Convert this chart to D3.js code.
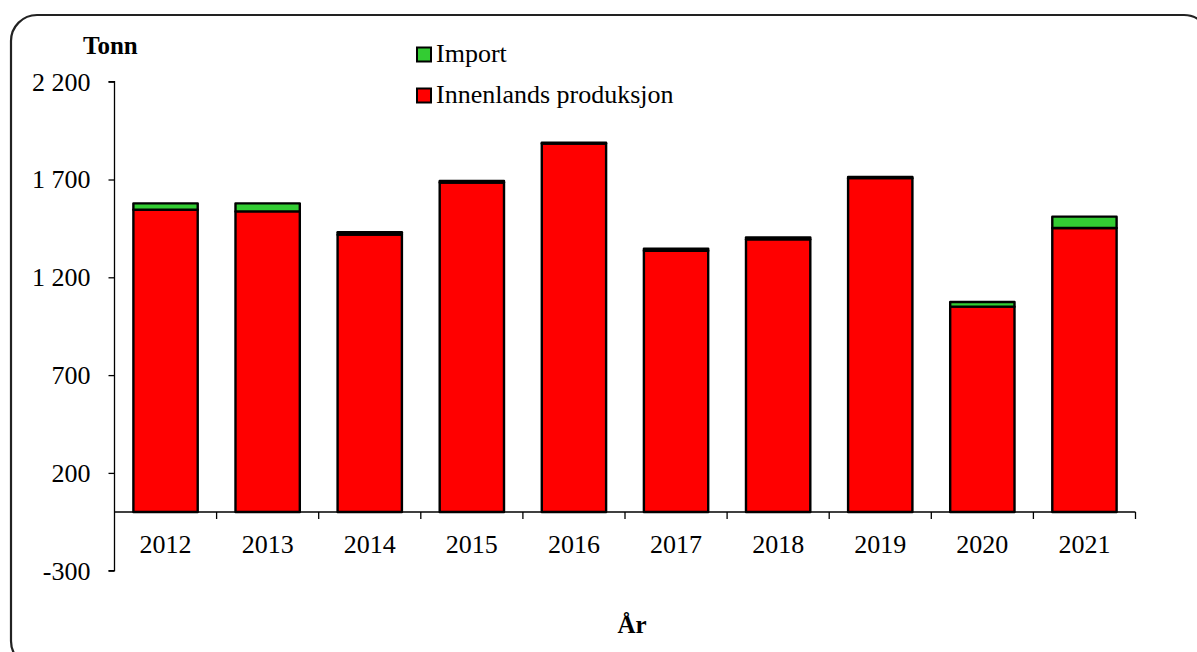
<!DOCTYPE html>
<html>
<head>
<meta charset="utf-8">
<script src="https://cdn.jsdelivr.net/npm/d3@7"></script>
<style>
  html, body { margin: 0; padding: 0; background: #fff; }
  svg { display: block; }
  text { font-family: "Liberation Serif", "Times New Roman", serif; fill: #000; }
</style>
</head>
<body>
<svg id="chart" width="1197" height="652"></svg>
<script>
const years = ["2012","2013","2014","2015","2016","2017","2018","2019","2020","2021"];
const production = [1545, 1537, 1418, 1685, 1884, 1336, 1394, 1707, 1050, 1452];
const importVals = [33, 41, 12, 7, 4, 10, 10, 6, 24, 58];
const yTicks = [-300, 200, 700, 1200, 1700, 2200];
const seriesNames = ["Innenlands produksjon", "Import"];
const seriesColors = ["#FF0000", "#33CC33"];

(function () {
const svg = d3.select("#chart");
const FS = "26px";

// Outer rounded frame
svg.append("rect")
  .attr("x", 11).attr("y", 15).attr("width", 1199).attr("height", 652)
  .attr("rx", 26).attr("ry", 26)
  .attr("fill", "none").attr("stroke", "#222").attr("stroke-width", 2.2);

const plotLeft = 114.5, plotRight = 1135.5, plotTop = 81.7, plotBottom = 570.7;

const x = d3.scaleBand().domain(years).range([plotLeft, plotRight]).paddingInner(0.37).paddingOuter(0.185);
const y = d3.scaleLinear().domain([-300, 2200]).range([plotBottom, plotTop]);

const data = years.map((yr, i) => ({year: yr, production: production[i], import: importVals[i]}));
const stacked = d3.stack().keys(["production", "import"])(data);

const g = svg.append("g");
stacked.forEach((s, si) => {
  g.selectAll(null).data(s).enter().append("rect")
    .attr("x", d => x(d.data.year))
    .attr("width", x.bandwidth())
    .attr("y", d => y(d[1]))
    .attr("height", d => Math.max(0, y(d[0]) - y(d[1])))
    .attr("fill", seriesColors[si])
    .attr("stroke", "#000")
    .attr("stroke-width", 2.4)
    .attr("stroke-linejoin", "round");
});

// Y axis
const yAxis = d3.axisLeft(y).tickValues(yTicks).tickSize(6).tickPadding(18)
  .tickFormat(d => String(d).replace(/\B(?=(\d{3})+(?!\d))/g, " "));
const yg = svg.append("g").attr("transform", `translate(${plotLeft},0)`).call(yAxis);
yg.select(".domain").attr("stroke", "#000").attr("stroke-width", 1.3).attr("d", `M-6,${plotTop}H0V${plotBottom}H-6`);
yg.selectAll(".tick line").attr("stroke", "#000").attr("stroke-width", 1.3);
yg.selectAll(".tick text").style("font-family", "'Liberation Serif', serif").style("font-size", FS).attr("fill", "#000");

// X axis (at zero)
const y0 = y(0);
const xg = svg.append("g");
xg.append("line").attr("x1", plotLeft).attr("x2", plotRight).attr("y1", y0).attr("y2", y0)
  .attr("stroke", "#000").attr("stroke-width", 1.3);
xg.selectAll(null).data(d3.range(1, years.length + 1)).enter().append("line")
  .attr("x1", i => plotLeft + x.step() * i)
  .attr("x2", i => plotLeft + x.step() * i)
  .attr("y1", y0).attr("y2", y0 + 7)
  .attr("stroke", "#000").attr("stroke-width", 1.3);
xg.selectAll(null).data(years).enter().append("text")
  .attr("x", d => x(d) + x.bandwidth() / 2)
  .attr("y", y0 + 41)
  .attr("text-anchor", "middle")
  .style("font-size", FS)
  .text(d => d);

// Titles
svg.append("text").attr("x", 83).attr("y", 54).style("font-size", "25px").style("font-weight", "bold").text("Tonn");
svg.append("text").attr("x", 632).attr("y", 633).attr("text-anchor", "middle")
  .style("font-size", "25px").style("font-weight", "bold").text("År");

// Legend (Import on top)
const legendItems = [{name: seriesNames[1], color: seriesColors[1]}, {name: seriesNames[0], color: seriesColors[0]}];
const lg = svg.append("g");
legendItems.forEach((it, i) => {
  const yy = 47.5 + i * 41;
  lg.append("rect").attr("x", 417).attr("y", yy).attr("width", 14).attr("height", 14)
    .attr("fill", it.color).attr("stroke", "#000").attr("stroke-width", 2);
  lg.append("text").attr("x", 436).attr("y", yy + 14.5).style("font-size", FS).text(it.name);
});
})();
</script>
</body>
</html>
